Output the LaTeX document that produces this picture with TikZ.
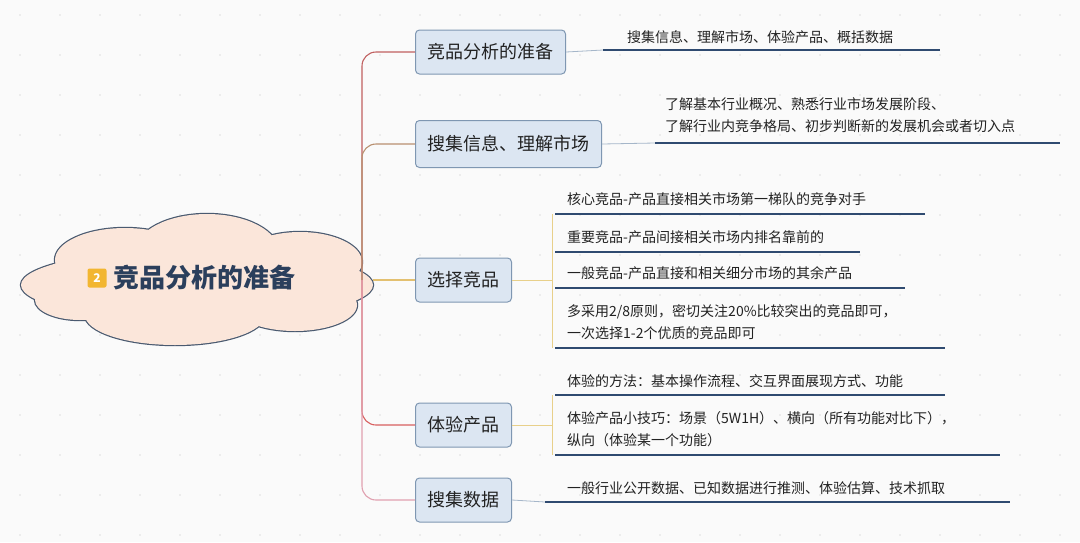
\documentclass[tikz,border=0pt]{standalone}
\usepackage{fontspec}
\setmainfont{Noto Sans CJK SC}
\definecolor{bg}{HTML}{FAFAFA}
\definecolor{mainfill}{HTML}{DCE6F2}
\definecolor{mainedge}{HTML}{7F97B2}
\definecolor{uline}{HTML}{2F4A70}
\definecolor{txt}{HTML}{222222}
\definecolor{cloudfill}{HTML}{FBE6DA}
\definecolor{cloudedge}{HTML}{4A5A70}
\definecolor{titlec}{HTML}{2B3F5C}
\definecolor{badge}{HTML}{F2B631}
\definecolor{cA}{HTML}{C06060}
\definecolor{cB}{HTML}{B89070}
\definecolor{cC}{HTML}{E3C070}
\definecolor{cD}{HTML}{D86060}
\definecolor{cE}{HTML}{E0A0B0}
\definecolor{brk}{HTML}{E8D08A}
\tikzset{
  mainbox/.style={draw=mainedge, fill=mainfill, rounded corners=4pt, line width=1pt, inner xsep=12pt, minimum height=44pt, font=\fontsize{18}{20}\selectfont, text=txt},
  subtext/.style={anchor=west, font=\fontsize{14}{22}\selectfont, text=txt, align=left, inner sep=0pt},
  ul/.style={draw=uline, line width=2.5pt},
  conn/.style={line width=1.1pt, rounded corners=14pt},
}
\newcommand{\cloudparts}{%
  (197,285) ellipse [x radius=176, y radius=36]
  (125,260) ellipse [x radius=70, y radius=32]
  (207,252) ellipse [x radius=72, y radius=38]
  (300,262) ellipse [x radius=62, y radius=30]
  (175,315) ellipse [x radius=90, y radius=30]
  (295,305) ellipse [x radius=62, y radius=26]
  (80,300) ellipse [x radius=45, y radius=20]}
\begin{document}
\begin{tikzpicture}[x=1pt,y=-1pt]
\useasboundingbox (0,0) rectangle (1080,542);
\fill[bg] (0,0) rectangle (1080,542);
\foreach \i in {0,...,26}{\foreach \j in {0,...,13}{\fill[gray!25] (20+40*\i,15+40*\j) circle (0.8);}}
% root cloud
\draw[cloudedge, line width=2.4pt] \cloudparts;
\fill[cloudfill] \cloudparts;
\node[minimum width=352pt, minimum height=130pt, inner sep=0pt] (root) at (197,280) {};
\node[fill=badge, rounded corners=2pt, text=white, font=\bfseries\fontsize{12}{12}\selectfont, minimum size=19pt, inner sep=0pt] (badge) at (97,278) {2};
\node[anchor=west, text=titlec, font=\bfseries\fontsize{26}{28}\selectfont] (title) at (110,278) {竞品分析的准备};
% main nodes
\node[mainbox, anchor=west] (n1) at (415,52) {竞品分析的准备};
\node[mainbox, anchor=west, minimum height=47pt] (n2) at (415,144) {搜集信息、理解市场};
\node[mainbox, anchor=west] (n3) at (415,280) {选择竞品};
\node[mainbox, anchor=west] (n4) at (415,425) {体验产品};
\node[mainbox, anchor=west] (n5) at (415,500) {搜集数据};
\coordinate (hub) at (362,280);
\draw[conn, cC] (root.east) -- (n3.west);
\draw[conn, cA] (hub) |- (n1.west);
\draw[conn, cB] (hub) |- (n2.west);
\draw[conn, cD] (hub) |- (n4.west);
\draw[conn, cE] (hub) |- (n5.west);
% subtopics 1
\node[subtext] (s1) at (627,37) {搜集信息、理解市场、体验产品、概括数据};
\coordinate (u1a) at (603,50); \coordinate (u1b) at (940,50);
\draw[mainedge!70, line width=0.8pt] (n1.east) -- (u1a);
\draw[ul] (u1a) -- (u1b);
% subtopics 2
\node[subtext] (s2) at (665,115) {了解基本行业概况、熟悉行业市场发展阶段、\\了解行业内竞争格局、初步判断新的发展机会或者切入点};
\coordinate (u2a) at (655,143); \coordinate (u2b) at (1060,143);
\draw[mainedge!70, line width=0.8pt] (n2.east) -- (u2a);
\draw[ul] (u2a) -- (u2b);
% subtopics 3
\coordinate (b3) at (552,280);
\draw[brk, line width=1pt] (n3.east) -- (b3);
\draw[brk, line width=1pt] (552,214) -- (552,348);
\node[subtext] (s31) at (567,199) {核心竞品-产品直接相关市场第一梯队的竞争对手};
\node[subtext] (s32) at (567,237) {重要竞品-产品间接相关市场内排名靠前的};
\node[subtext] (s33) at (567,273) {一般竞品-产品直接和相关细分市场的其余产品};
\node[subtext] (s34) at (567,322) {多采用2/8原则，密切关注20\%比较突出的竞品即可，\\一次选择1-2个优质的竞品即可};
\draw[ul] (555,214) -- (925,214);
\draw[ul] (555,252) -- (860,252);
\draw[ul] (555,288) -- (905,288);
\draw[ul] (555,348) -- (945,348);
% subtopics 4
\coordinate (b4) at (552,425);
\draw[brk, line width=1pt] (n4.east) -- (b4);
\draw[brk, line width=1pt] (552,395) -- (552,455);
\node[subtext] (s41) at (567,381) {体验的方法：基本操作流程、交互界面展现方式、功能};
\node[subtext] (s42) at (567,429) {体验产品小技巧：场景（5W1H）、横向（所有功能对比下），\\纵向（体验某一个功能）};
\draw[ul] (555,395) -- (945,395);
\draw[ul] (555,455) -- (1000,455);
% subtopics 5
\node[subtext] (s5) at (567,488) {一般行业公开数据、已知数据进行推测、体验估算、技术抓取};
\coordinate (u5a) at (545,502); \coordinate (u5b) at (1010,502);
\draw[mainedge!70, line width=0.8pt] (n5.east) -- (u5a);
\draw[ul] (u5a) -- (u5b);
\end{tikzpicture}
\end{document}
